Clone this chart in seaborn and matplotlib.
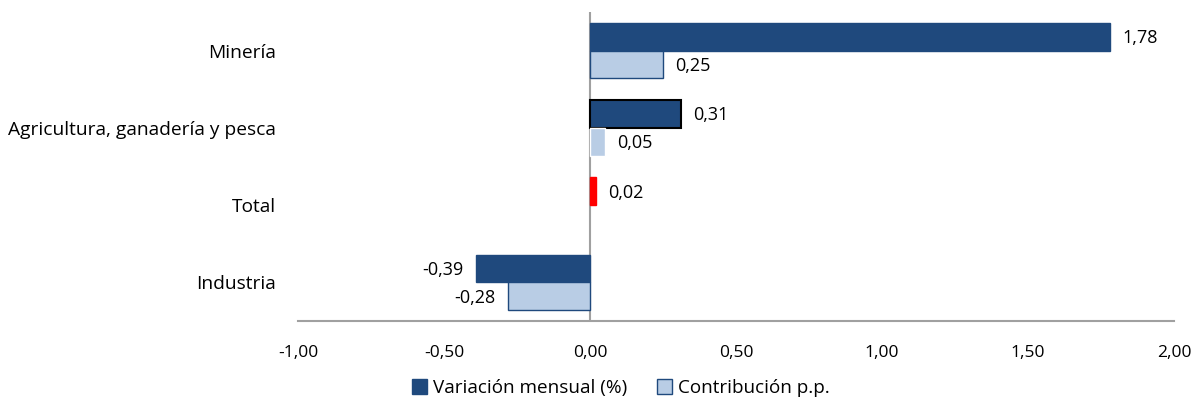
import numpy as np
import pandas as pd
import matplotlib.pyplot as plt
import seaborn as sns
from matplotlib.patches import Patch

categorias = ['Minería', 'Agricultura, ganadería y pesca', 'Total', 'Industria']
variacion = [1.78, 0.31, 0.02, -0.39]
contribucion = [0.25, 0.05, np.nan, -0.28]
series = ['Variación mensual (%)', 'Contribución p.p.']

dark = '#1f497d'
light = '#b9cde5'
fs = 13

df = pd.DataFrame({
    'cat': categorias * 2,
    'serie': [series[0]] * 4 + [series[1]] * 4,
    'valor': variacion + contribucion,
})

sns.set_style('white')
plt.rcParams['font.family'] = ['Open Sans', 'DejaVu Sans']
plt.rcParams['text.color'] = 'black'
plt.rcParams['xtick.color'] = 'black'
plt.rcParams['ytick.color'] = 'black'

fig = plt.figure(figsize=(11.94, 4), dpi=100)
ax = fig.add_axes([298 / 1194, 1 - 321 / 400, 876 / 1194, 309 / 400])

sns.barplot(data=df, y='cat', x='valor', hue='serie', order=categorias,
            hue_order=series, palette=[dark, light], orient='h',
            width=0.72, dodge=True, saturation=1, legend=False, ax=ax)

# bars of each series (NaN values are dropped by seaborn)
bars_v = list(ax.containers[0])
bars_c = list(ax.containers[1])
for b in bars_v:
    b.set_edgecolor(dark)
    b.set_linewidth(1)
    if abs(b.get_width() - 0.31) < 1e-6:
        b.set_edgecolor('black')
        b.set_linewidth(1.5)
    if abs(b.get_width() - 0.02) < 1e-6:
        b.set_facecolor('#ff0000')
        b.set_edgecolor('#ff0000')
for b in bars_c:
    if abs(b.get_width() - 0.05) > 1e-6:
        b.set_edgecolor(dark)
        b.set_linewidth(1)

# data labels
for b in bars_v + bars_c:
    v = b.get_width()
    y = b.get_y() + b.get_height() / 2
    txt = f'{v:.2f}'.replace('.', ',')
    if v >= 0:
        ax.annotate(txt, (v, y), xytext=(9, -1), textcoords='offset points',
                    ha='left', va='center', fontsize=fs)
    else:
        ax.annotate(txt, (v, y), xytext=(-9, -1), textcoords='offset points',
                    ha='right', va='center', fontsize=fs)

ax.set_xlim(-1, 2)
ax.set_ylim(3.5, -0.5)
ticks = np.arange(-1, 2.01, 0.5)
ax.set_xticks(ticks)
ax.set_xticklabels([f'{t:.2f}'.replace('.', ',') for t in ticks], fontsize=12.5)
ax.tick_params(axis='x', length=0, pad=17)
ax.tick_params(axis='y', length=0, pad=16, labelsize=13.8)
ax.set_xlabel('')
ax.set_ylabel('')
for s in ['top', 'right', 'left']:
    ax.spines[s].set_visible(False)
ax.spines['bottom'].set_color('#a0a0a0')
ax.spines['bottom'].set_linewidth(1.5)
ax.axvline(0, color='#a0a0a0', lw=1.5, zorder=0.5)

handles = [Patch(facecolor=dark, edgecolor=dark, label=series[0]),
           Patch(facecolor=light, edgecolor=dark, label=series[1])]
fig.legend(handles=handles, loc='center', bbox_to_anchor=(621 / 1194, 1 - 388 / 400),
           ncol=2, frameon=False, fontsize=13.6, handlelength=0.8, handleheight=0.8,
           handletextpad=0.3, columnspacing=1.6)

fig.savefig('out.png', dpi=100)
